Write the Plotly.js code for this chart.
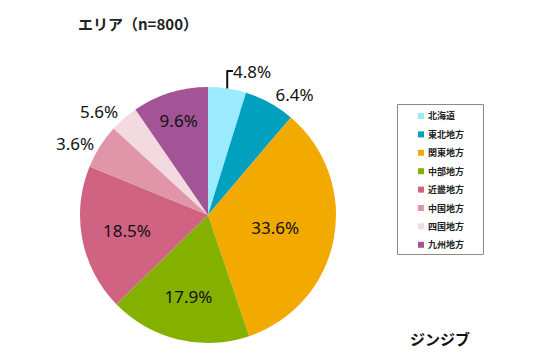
<!DOCTYPE html>
<html><head><meta charset="utf-8">
<script src="https://cdn.plot.ly/plotly-3.0.1.min.js"></script>
<style>html,body{margin:0;padding:0;background:#fff}#chart{width:536px;height:357px}</style>
</head><body><div id="chart"></div>
<script>
const regions = ['北海道','東北地方','関東地方','中部地方','近畿地方','中国地方','四国地方','九州地方'];
const shares = [4.8, 6.4, 33.6, 17.9, 18.5, 5.6, 3.6, 9.6];
const shareLabels = ['4.8%','6.4%','33.6%','17.9%','18.5%','3.6%','5.6%','9.6%'];
const colors = ['#99EBFD','#00A0BE','#F2A900','#84B000','#D06282','#E095A8','#F3D9E0','#A35497'];
const labelPos = ['outside','outside','inside','inside','inside','outside','outside','inside'];

const W = 536, H = 357;
const px = x => x / W, py = y => 1 - y / H;

const pctFont = {family: 'Noto Sans, sans-serif', size: 17, color: '#111'};
const trace = {
  type: 'pie',
  labels: regions,
  values: shares,
  text: shareLabels,
  texttemplate: '%{text}',
  textposition: labelPos,
  insidetextorientation: 'horizontal',
  sort: false,
  direction: 'clockwise',
  rotation: 0,
  marker: {colors: colors, line: {width: 0}},
  textfont: pctFont,
  outsidetextfont: pctFont,
  insidetextfont: pctFont,
  domain: {x: [px(80), px(336)], y: [py(343), py(87)]},
  hoverinfo: 'none'
};

// Legend built from the category and colour arrays
const legTop = 116, legStep = 18.4;
const shapes = [{
  type: 'rect', xref: 'paper', yref: 'paper',
  x0: px(397.5), x1: px(483.5), y0: py(104.5), y1: py(254.5),
  line: {color: '#8a8a8a', width: 1}, fillcolor: 'rgba(0,0,0,0)'
}];
const annotations = [];
regions.forEach((r, i) => {
  const yc = legTop + i * legStep;
  shapes.push({
    type: 'rect', xref: 'paper', yref: 'paper',
    x0: px(418), x1: px(424), y0: py(yc - 3), y1: py(yc + 3),
    line: {width: 0}, fillcolor: colors[i]
  });
  annotations.push({
    text: r, xref: 'paper', yref: 'paper', x: px(426), y: py(yc),
    xanchor: 'left', yanchor: 'middle', showarrow: false,
    font: {family: 'Noto Sans CJK JP', size: 9, color: '#222', weight: 'bold'}
  });
});
annotations.push({
  text: 'ジンジブ', xref: 'paper', yref: 'paper',
  x: px(408), y: py(338), xanchor: 'left', yanchor: 'middle',
  showarrow: false,
  font: {family: 'Noto Sans CJK JP', size: 15, color: '#111', weight: 'bold'}
});

const layout = {
  width: W, height: H,
  margin: {l: 0, r: 0, t: 0, b: 0},
  paper_bgcolor: '#fff',
  showlegend: false,
  shapes: shapes,
  annotations: annotations,
  title: {
    text: 'エリア（n=800）',
    x: px(78), xanchor: 'left', xref: 'paper',
    y: py(25), yanchor: 'middle', yref: 'container',
    font: {family: 'Noto Sans CJK JP', size: 15, color: '#222', weight: 'bold'}
  }
};

Plotly.newPlot('chart', [trace], layout, {displayModeBar: false, staticPlot: true});
</script></body></html>
